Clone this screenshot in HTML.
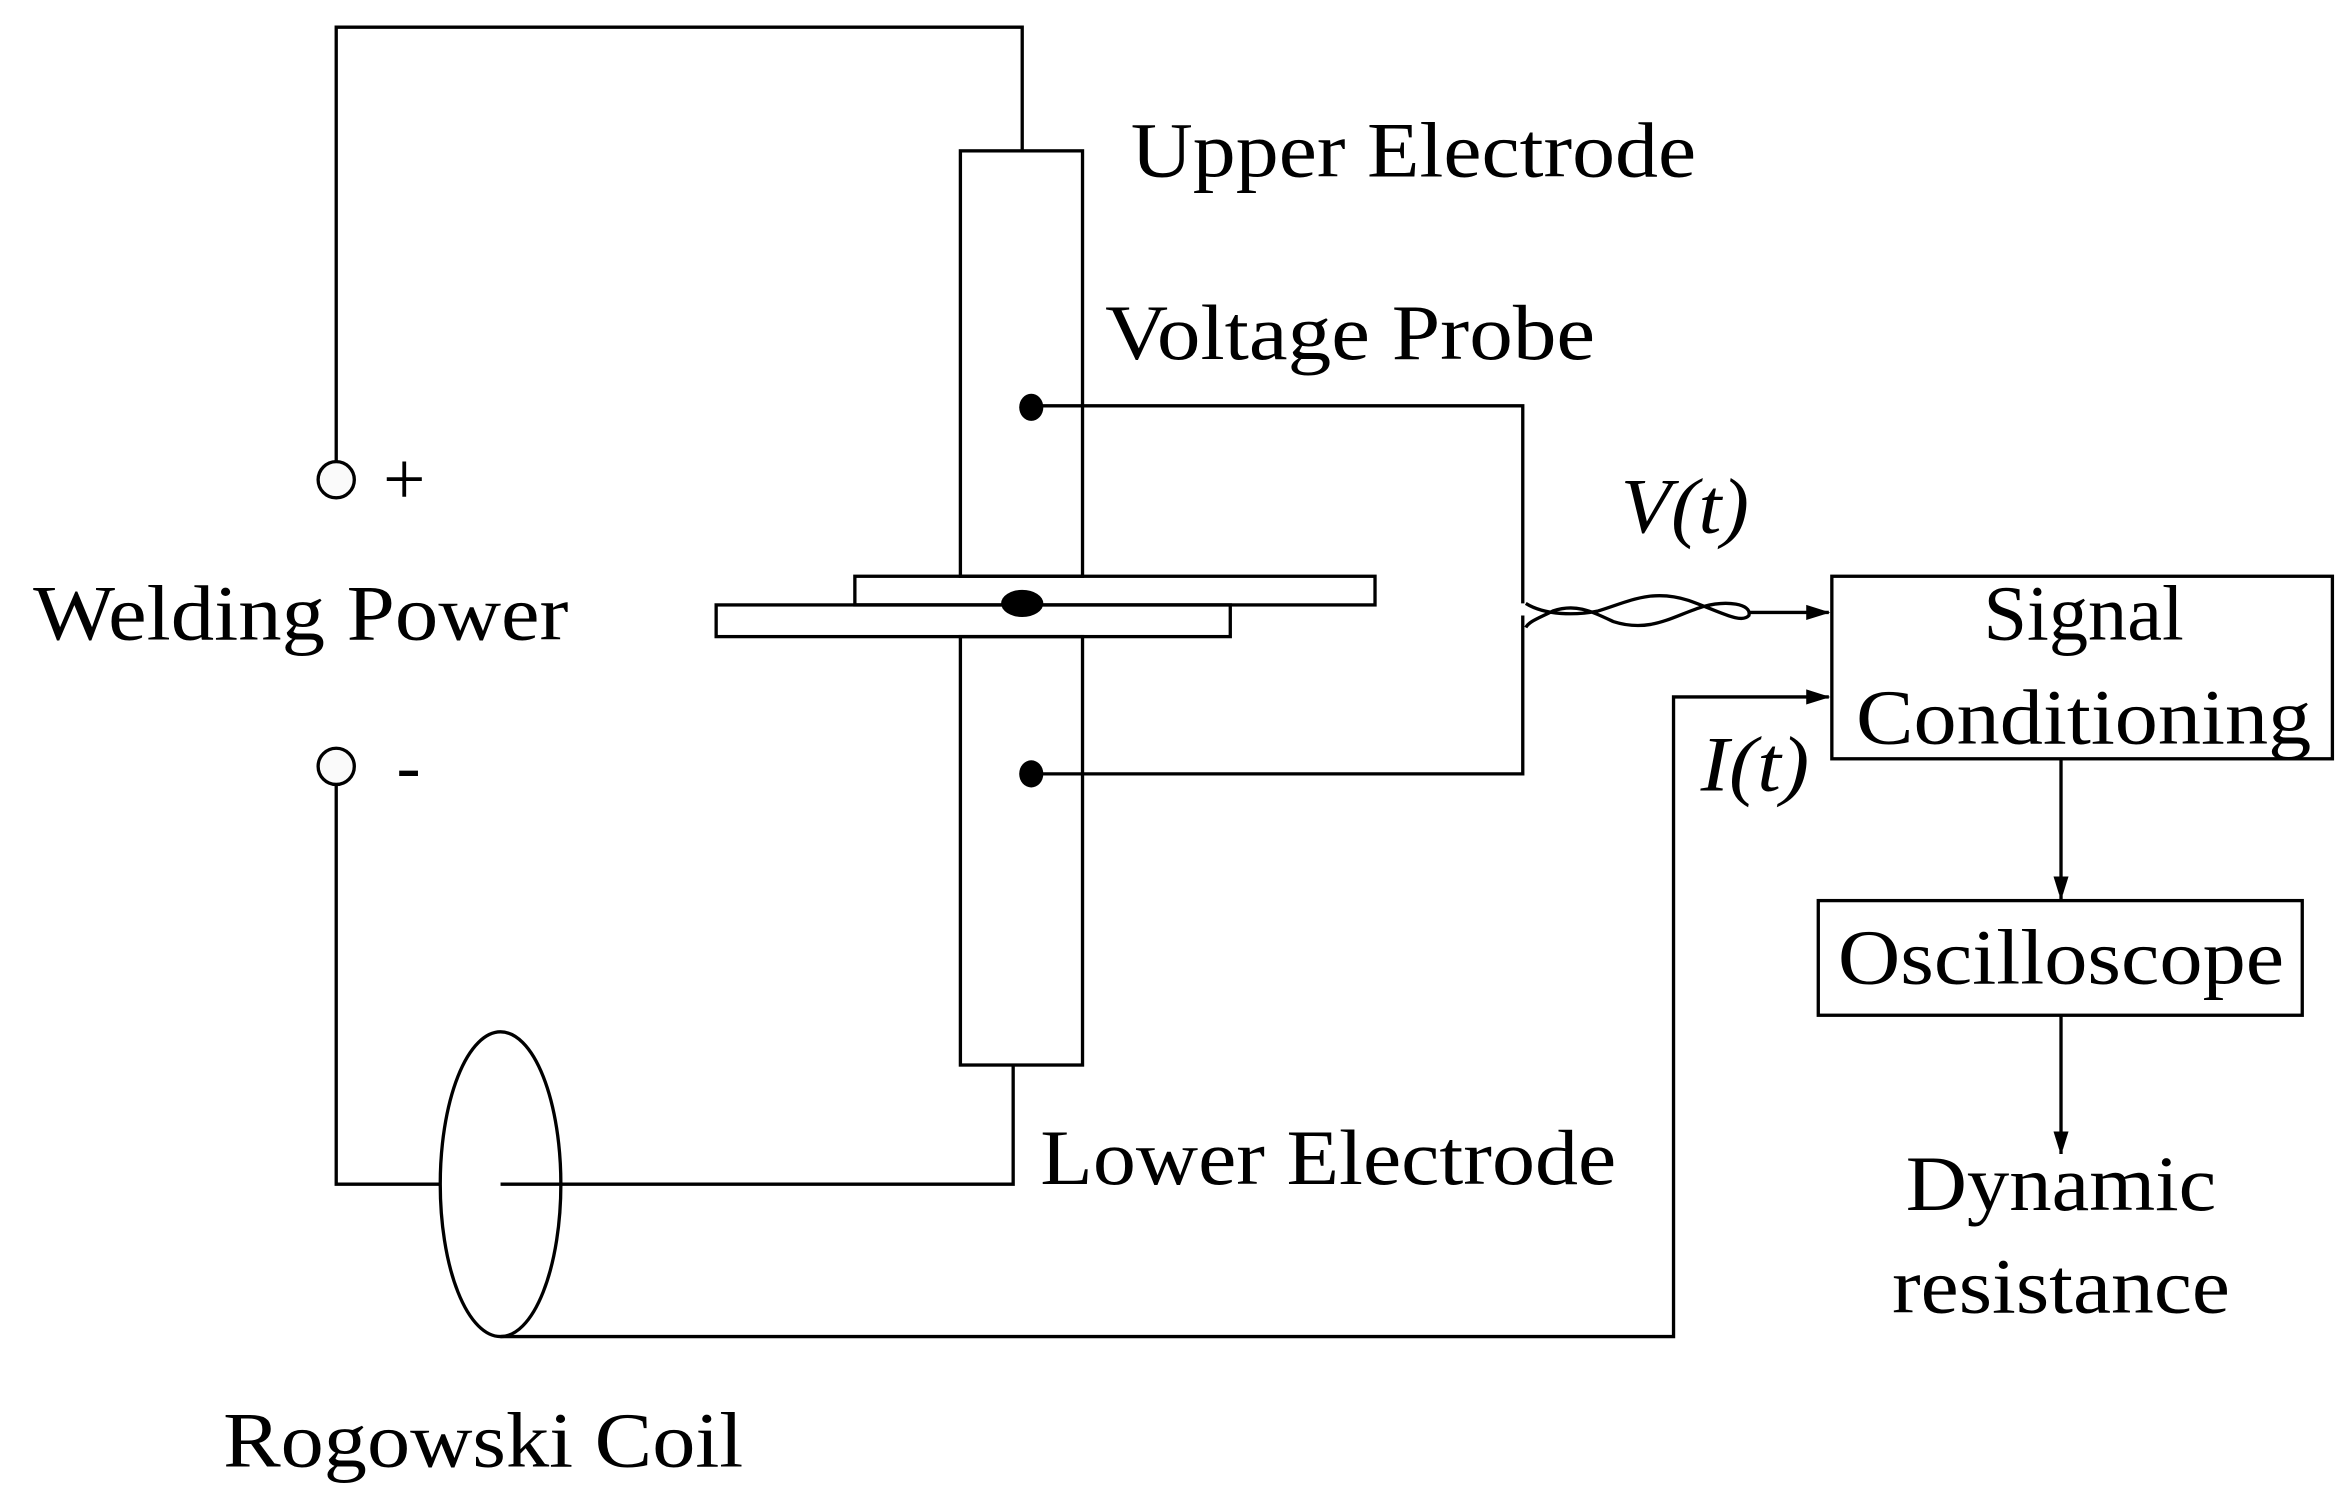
<!DOCTYPE html>
<html><head><style>html,body{margin:0;padding:0;background:#fff}svg{display:block}</style></head>
<body>
<svg width="2352" height="1501" viewBox="0 0 1560 995" preserveAspectRatio="none" xmlns="http://www.w3.org/2000/svg">
<defs><marker id="a" markerWidth="16" markerHeight="12" refX="15" refY="6" orient="auto" markerUnits="userSpaceOnUse"><path d="M0,1 L16,6 L0,11 Z" fill="#000"/></marker>
<marker id="b" markerWidth="12" markerHeight="16" refX="15" refY="6" orient="auto" markerUnits="userSpaceOnUse"><path d="M0,1 L16,6 L0,11 Z" fill="#000"/></marker></defs>
<g fill="none" stroke="#000" stroke-width="2.2">
<polyline points="223,306 223,18 678,18 678,100"/>
<rect x="637" y="100" width="81" height="282"/>
<rect x="637" y="422" width="81" height="284"/>
<rect x="567" y="382" width="345" height="19"/>
<rect x="475" y="401" width="341" height="21"/>
<polyline points="690,269 1010,269 1010,400"/>
<polyline points="690,513 1010,513 1010,408"/>
<path d="M1012,400 C1025,408 1045,408 1060,405 C1080,399 1095,390 1120,398 C1140,405 1155,414 1160,408 C1162,400 1145,398 1130,402 C1110,408 1095,420 1070,412 C1055,405 1045,400 1030,405 C1020,410 1014,412 1012,416"/>
<line x1="1160" y1="406" x2="1213" y2="406" marker-end="url(#a)"/>
<rect x="1215" y="382" width="332" height="121"/>
<polyline points="332,886 1110,886 1110,462 1213,462" marker-end="url(#a)"/>
<line x1="1367" y1="503" x2="1367" y2="596" marker-end="url(#b)"/>
<rect x="1206" y="597" width="321" height="76"/>
<line x1="1367" y1="673" x2="1367" y2="765" marker-end="url(#b)"/>
<polyline points="223,520 223,785 292,785"/>
<polyline points="332,785 672,785 672,706"/>
<ellipse cx="332" cy="785" rx="40" ry="101"/>
<circle cx="223" cy="318" r="12" fill="#fafafa"/>
<circle cx="223" cy="508" r="12" fill="#fafafa"/>
</g>
<ellipse cx="678" cy="400" rx="14" ry="9" fill="#000"/>
<ellipse cx="684" cy="270" rx="8" ry="9" fill="#000"/>
<ellipse cx="684" cy="513" rx="8" ry="9" fill="#000"/>
<g font-family="Liberation Serif, serif" font-size="52" fill="#000">
<text x="750" y="117" textLength="375" lengthAdjust="spacingAndGlyphs">Upper Electrode</text>
<text x="733" y="238" textLength="325" lengthAdjust="spacingAndGlyphs">Voltage Probe</text>
<text x="22" y="424" textLength="355" lengthAdjust="spacingAndGlyphs">Welding Power</text>
<text x="254" y="334" font-size="50">+</text>
<text x="263" y="524" font-size="48">-</text>
<text x="1075" y="353" font-style="italic" textLength="85" lengthAdjust="spacingAndGlyphs">V(t)</text>
<text x="1128" y="524" font-style="italic" textLength="72" lengthAdjust="spacingAndGlyphs">I(t)</text>
<text x="1382" y="424" text-anchor="middle">Signal</text>
<text x="1382" y="493" text-anchor="middle" textLength="302" lengthAdjust="spacingAndGlyphs">Conditioning</text>
<text x="1367" y="652" text-anchor="middle" textLength="296" lengthAdjust="spacingAndGlyphs">Oscilloscope</text>
<text x="690" y="785" textLength="382" lengthAdjust="spacingAndGlyphs">Lower Electrode</text>
<text x="1367" y="802" text-anchor="middle" textLength="206" lengthAdjust="spacingAndGlyphs">Dynamic</text>
<text x="1367" y="870" text-anchor="middle" textLength="224" lengthAdjust="spacingAndGlyphs">resistance</text>
<text x="148" y="972" textLength="345" lengthAdjust="spacingAndGlyphs">Rogowski Coil</text>
</g>
</svg>
</body></html>
